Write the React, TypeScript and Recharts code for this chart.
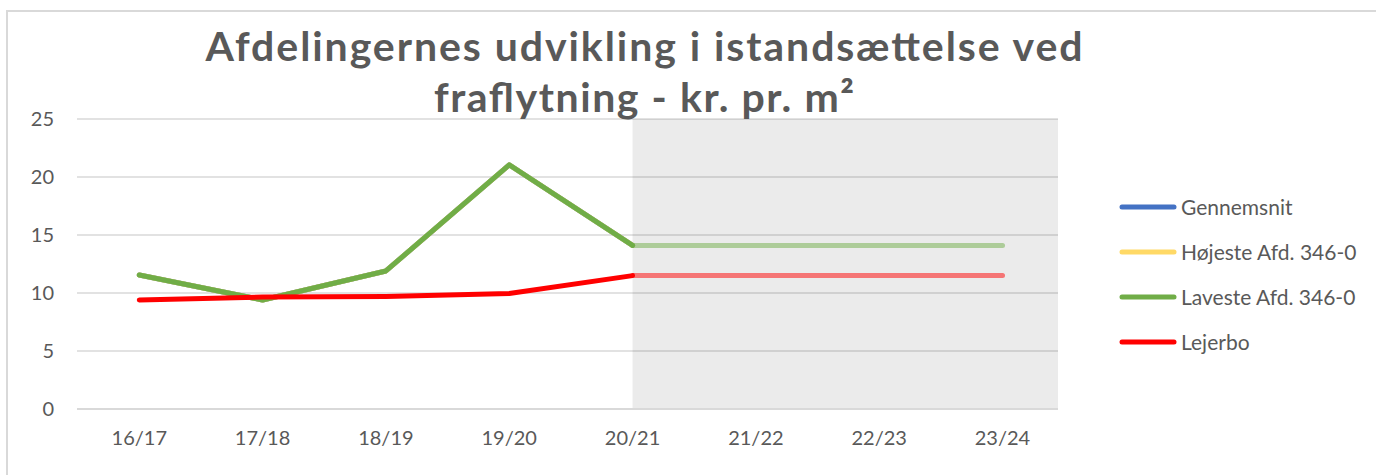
import { CartesianGrid, Legend, Line, LineChart, ReferenceArea, XAxis, YAxis } from "recharts";

const years = ["16/17", "17/18", "18/19", "19/20", "20/21", "21/22", "22/23", "23/24"];
const gennemsnit = [11.55, 9.4, 11.9, 21.05, 14.1, null, null, null];
const hojeste = [11.55, 9.4, 11.9, 21.05, 14.1, null, null, null];
const laveste = [11.55, 9.4, 11.9, 21.05, 14.1, null, null, null];
const lejerbo = [9.4, 9.65, 9.7, 9.95, 11.5, null, null, null];
const lavesteForecast = [null, null, null, null, 14.1, 14.1, 14.1, 14.1];
const lejerboForecast = [null, null, null, null, 11.5, 11.5, 11.5, 11.5];
const yTicks = [0, 5, 10, 15, 20, 25];
const forecastFrom = 4;

// title lines and the width each one takes in the original
const titleLines = ["Afdelingernes udvikling i istandsættelse ved", "fraflytning - kr. pr. m²"];
const titleWidths = [877, 420];

const series = [
  { key: "gennemsnit", name: "Gennemsnit", color: "#4472c4" },
  { key: "hojeste", name: "Højeste Afd. 346-0", color: "#ffd966" },
  { key: "laveste", name: "Laveste Afd. 346-0", color: "#70ad47" },
  { key: "lejerbo", name: "Lejerbo", color: "#ff0000" },
];

const data = years.map((y, i) => ({
  i,
  year: y,
  gennemsnit: gennemsnit[i],
  hojeste: hojeste[i],
  laveste: laveste[i],
  lejerbo: lejerbo[i],
  lavesteForecast: lavesteForecast[i],
  lejerboForecast: lejerboForecast[i],
}));

const FONT = "Lato, 'Open Sans', sans-serif";
const TEXT = "#595959";

function LegendBox() {
  return (
    <div style={{ fontFamily: FONT, fontSize: 21, color: TEXT }}>
      {series.map((s) => (
        <div key={s.key} style={{ height: 45, display: "flex", alignItems: "center" }}>
          <svg width={58} height={8} style={{ marginRight: 4 }}>
            <line x1={3} y1={4} x2={55} y2={4} stroke={s.color} strokeWidth={5} strokeLinecap="round" />
          </svg>
          <span style={{ whiteSpace: "nowrap" }}>{s.name}</span>
        </div>
      ))}
    </div>
  );
}

export default function App() {
  return (
    <div style={{ position: "fixed", left: 0, top: 0, width: 1376, height: 475, background: "#fff", overflow: "hidden" }}>
      <div
        style={{
          position: "absolute",
          left: 6,
          top: 10,
          width: 1400,
          height: 500,
          border: "2px solid #d9d9d9",
        }}
      />
      <div style={{ position: "absolute", left: 0, top: 0 }}>
        <LineChart width={1376} height={475} data={data} margin={{ top: 119, right: 318, bottom: 0, left: 0 }}>
          <CartesianGrid vertical={false} stroke="#d9d9d9" strokeWidth={1.5} />
          <ReferenceArea x1={forecastFrom} x2={7.45} y1={0} y2={25} fill="#000" fillOpacity={0.08} stroke="none" />
          <XAxis
            type="number"
            dataKey="i"
            domain={[-0.505, 7.45]}
            allowDataOverflow
            ticks={years.map((_, i) => i)}
            tickFormatter={(v: number) => years[v]}
            height={66}
            tickLine={false}
            tickSize={0}
            tickMargin={22}
            axisLine={{ stroke: "#d9d9d9", strokeWidth: 2 }}
            tick={{ fill: TEXT, fontSize: 20, fontFamily: FONT }}
            interval={0}
          />
          <YAxis
            domain={[0, 25]}
            ticks={yTicks}
            width={77}
            axisLine={false}
            tickLine={false}
            tickSize={0}
            tickMargin={23}
            tick={{ fill: TEXT, fontSize: 20, fontFamily: FONT }}
          />
          {series.map((s) => (
            <Line
              key={s.key}
              dataKey={s.key}
              name={s.name}
              stroke={s.color}
              strokeWidth={5}
              strokeLinecap="round"
              strokeLinejoin="round"
              dot={false}
              activeDot={false}
              isAnimationActive={false}
            />
          ))}
          <Line
            dataKey="lavesteForecast"
            legendType="none"
            stroke="#70ad47"
            strokeOpacity={0.5}
            strokeWidth={5}
            strokeLinecap="round"
            dot={false}
            activeDot={false}
            isAnimationActive={false}
          />
          <Line
            dataKey="lejerboForecast"
            legendType="none"
            stroke="#ff0000"
            strokeOpacity={0.5}
            strokeWidth={5}
            strokeLinecap="round"
            dot={false}
            activeDot={false}
            isAnimationActive={false}
          />
          <Legend
            layout="vertical"
            align="center"
            verticalAlign="middle"
            content={() => <LegendBox />}
            wrapperStyle={{ left: 1119, top: 184, width: 257 }}
          />
        </LineChart>
      </div>
      <svg width={1376} height={140} style={{ position: "absolute", left: 0, top: 0, pointerEvents: "none" }}>
        {titleLines.map((t, k) => (
          <text
            key={k}
            x={644}
            y={k === 0 ? 61 : 112}
            textAnchor="middle"
            textLength={titleWidths[k]}
            lengthAdjust="spacing"
            fontFamily={FONT}
            fontWeight={700}
            fontSize={41}
            fill={TEXT}
          >
            {t}
          </text>
        ))}
      </svg>
    </div>
  );
}
